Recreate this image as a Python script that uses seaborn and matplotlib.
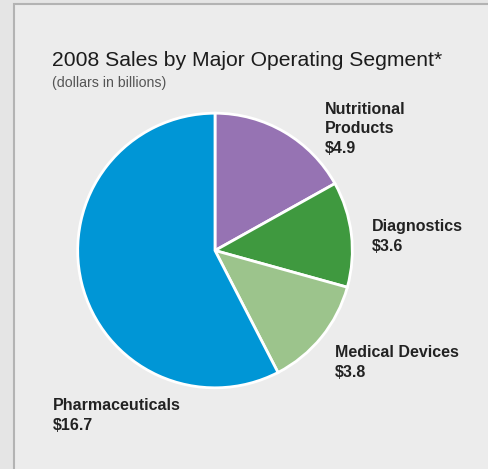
import matplotlib
matplotlib.use("Agg")
import matplotlib.pyplot as plt
import seaborn as sns
from matplotlib.patches import Rectangle

# data
segments = ["Nutritional\nProducts", "Diagnostics", "Medical Devices", "Pharmaceuticals"]
sales = [4.9, 3.6, 3.8, 16.7]
colors = ["#9673b3", "#3f993f", "#9cc48c", "#0096d6"]

sns.set_theme(style="white")
plt.rcParams["font.family"] = ["Liberation Sans", "DejaVu Sans"]

W, H = 488, 469
fig = plt.figure(figsize=(W / 100, H / 100), dpi=100)
fig.patch.set_facecolor("#e5e5e5")

# panel with border
fig.patches.append(Rectangle((13.5 / W, -0.05), 1.2, (H - 4.5) / H + 0.05,
                             transform=fig.transFigure, facecolor="#ececec",
                             edgecolor="#b3b3b3", linewidth=1.5, zorder=-5))

# pie axes, centre (215, 250), radius 137 px
cx, cy, r = 215, 250.5, 138
ax = fig.add_axes([(cx - r) / W, (H - cy - r) / H, 2 * r / W, 2 * r / H])
ax.set_facecolor("none")
ax.set_zorder(2)
ax.pie(sales, colors=colors, startangle=90, counterclock=False, radius=1,
       wedgeprops=dict(edgecolor="white", linewidth=2))
ax.set_xlim(-1.005, 1.005)
ax.set_ylim(-1.005, 1.005)
ax.set_aspect("equal")
ax.axis("off")


def px(x, y):
    return x / W, 1 - y / H


fig.text(*px(52, 66), "2008 Sales by Major Operating Segment*", fontsize=15.2,
         color="#1c1c1c", va="baseline", ha="left")
fig.text(*px(52, 87.5), "(dollars in billions)", fontsize=10.2,
         color="#555555", va="baseline", ha="left")

# label positions (baseline of the value line, in px)
label_pos = [(325, 153), (372, 251), (335, 377), (53, 430)]
for (lx, ly), name, val in zip(label_pos, segments, sales):
    txt = f"{name}\n${val}"
    fig.text(*px(lx, ly), txt, fontsize=11.5, color="#222222",
             fontweight="bold", ha="left", va="baseline", linespacing=1.38)

fig.savefig("out.png", dpi=100, facecolor=fig.get_facecolor())
